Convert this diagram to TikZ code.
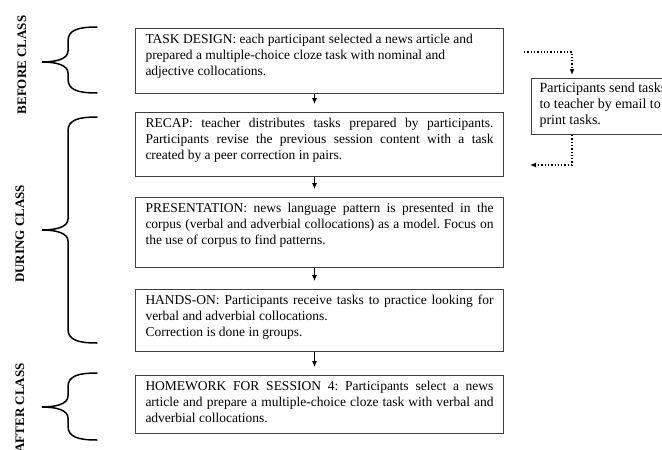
\documentclass[tikz,border=0pt]{standalone}
\usepackage{fontspec}
\setmainfont{Liberation Serif}
\usetikzlibrary{arrows.meta}
\frenchspacing
\newcommand{\boxtext}[2]{\parbox[c][#1][t]{348pt}{\rule{0pt}{15pt}#2}}
\newcommand{\jl}[1]{\makebox[348pt][s]{#1}\\}
\newcommand{\mybrace}[3]{%
  \draw[bracestyle] (97,#1) .. controls (78,#1) and (68,#1+3) .. (68,#1+14)
    -- (68,#2-11) .. controls (68,#2-3) and (56,#2) .. (42,#2)
    .. controls (56,#2) and (68,#2+3) .. (68,#2+11)
    -- (68,#3-14) .. controls (68,#3-3) and (78,#3) .. (97,#3);}
\begin{document}
\begin{tikzpicture}[x=1pt,y=-1pt,
  box/.style={draw=black!75, line width=1pt, inner sep=0pt, anchor=north west,
    minimum width=368pt, font=\fontsize{13.5pt}{16pt}\selectfont\frenchspacing},
  flow/.style={line width=0.9pt, -{Latex[length=6pt,width=5pt]}},
  dotconn/.style={line width=1.3pt, dotted, -{Latex[length=6pt,width=5pt]}},
  bracestyle/.style={line width=1.5pt, line cap=round},
  lbl/.style={font=\bfseries\fontsize{13pt}{15pt}\selectfont, rotate=90}]
\useasboundingbox (0,0) rectangle (662,450);
\clip (0,0) rectangle (662,450);

\node[box] (b1) at (135,28) {\boxtext{65pt}{TASK DESIGN: each participant selected a news article and\\
prepared a multiple-choice cloze task with nominal and\\
adjective collocations.}};
\node[box] (b2) at (135,112) {\boxtext{64pt}{\jl{RECAP: teacher distributes tasks prepared by participants.}\jl{Participants revise the previous session content with a task}created by a peer correction in pairs.}};
\node[box] (b3) at (135,197) {\boxtext{70pt}{\jl{PRESENTATION: news language pattern is presented in the}\jl{corpus (verbal and adverbial collocations) as a model. Focus on}the use of corpus to find patterns.}};
\node[box] (b4) at (135,289) {\boxtext{62pt}{\jl{HANDS-ON: Participants receive tasks to practice looking for}verbal and adverbial collocations.\\
Correction is done in groups.}};
\node[box] (b5) at (135,375) {\boxtext{58pt}{\jl{HOMEWORK FOR SESSION 4: Participants select a news}\jl{article and prepare a multiple-choice cloze task with verbal and}adverbial collocations.}};

\draw[flow, shorten >=8pt] ([xshift=-5pt]b1.south) -- ([xshift=-5pt]b2.north);
\draw[flow, shorten >=8pt] ([xshift=-5pt]b2.south) -- ([xshift=-5pt]b3.north);
\draw[flow, shorten >=8pt] ([xshift=-5pt]b3.south) -- ([xshift=-5pt]b4.north);
\draw[flow, shorten >=8pt] ([xshift=-5pt]b4.south) -- ([xshift=-5pt]b5.north);

\node[draw=black!75, line width=1pt, anchor=north west, inner sep=0pt,
  minimum width=190pt, minimum height=56pt, font=\fontsize{14pt}{16pt}\selectfont]
  (rb) at (531,78) {\parbox[c][56pt][t]{174pt}{\rule{0pt}{14pt}Participants send tasks\\
to teacher by email to\\ print tasks.}};

\coordinate (d1) at (524,52);
\coordinate (d2) at (530,165);
\draw[dotconn, shorten >=3pt] (d1) -| ([xshift=41pt]rb.north west);
\draw[dotconn] ([xshift=41pt]rb.south west) |- (d2);

\mybrace{27}{62}{93}
\mybrace{117}{230}{343}
\mybrace{373}{407}{440}

\node[lbl] (l1) at (22,65) {BEFORE CLASS};
\node[lbl] (l2) at (20,234) {DURING CLASS};
\node[lbl] (l3) at (20,408) {AFTER CLASS};
\end{tikzpicture}
\end{document}
